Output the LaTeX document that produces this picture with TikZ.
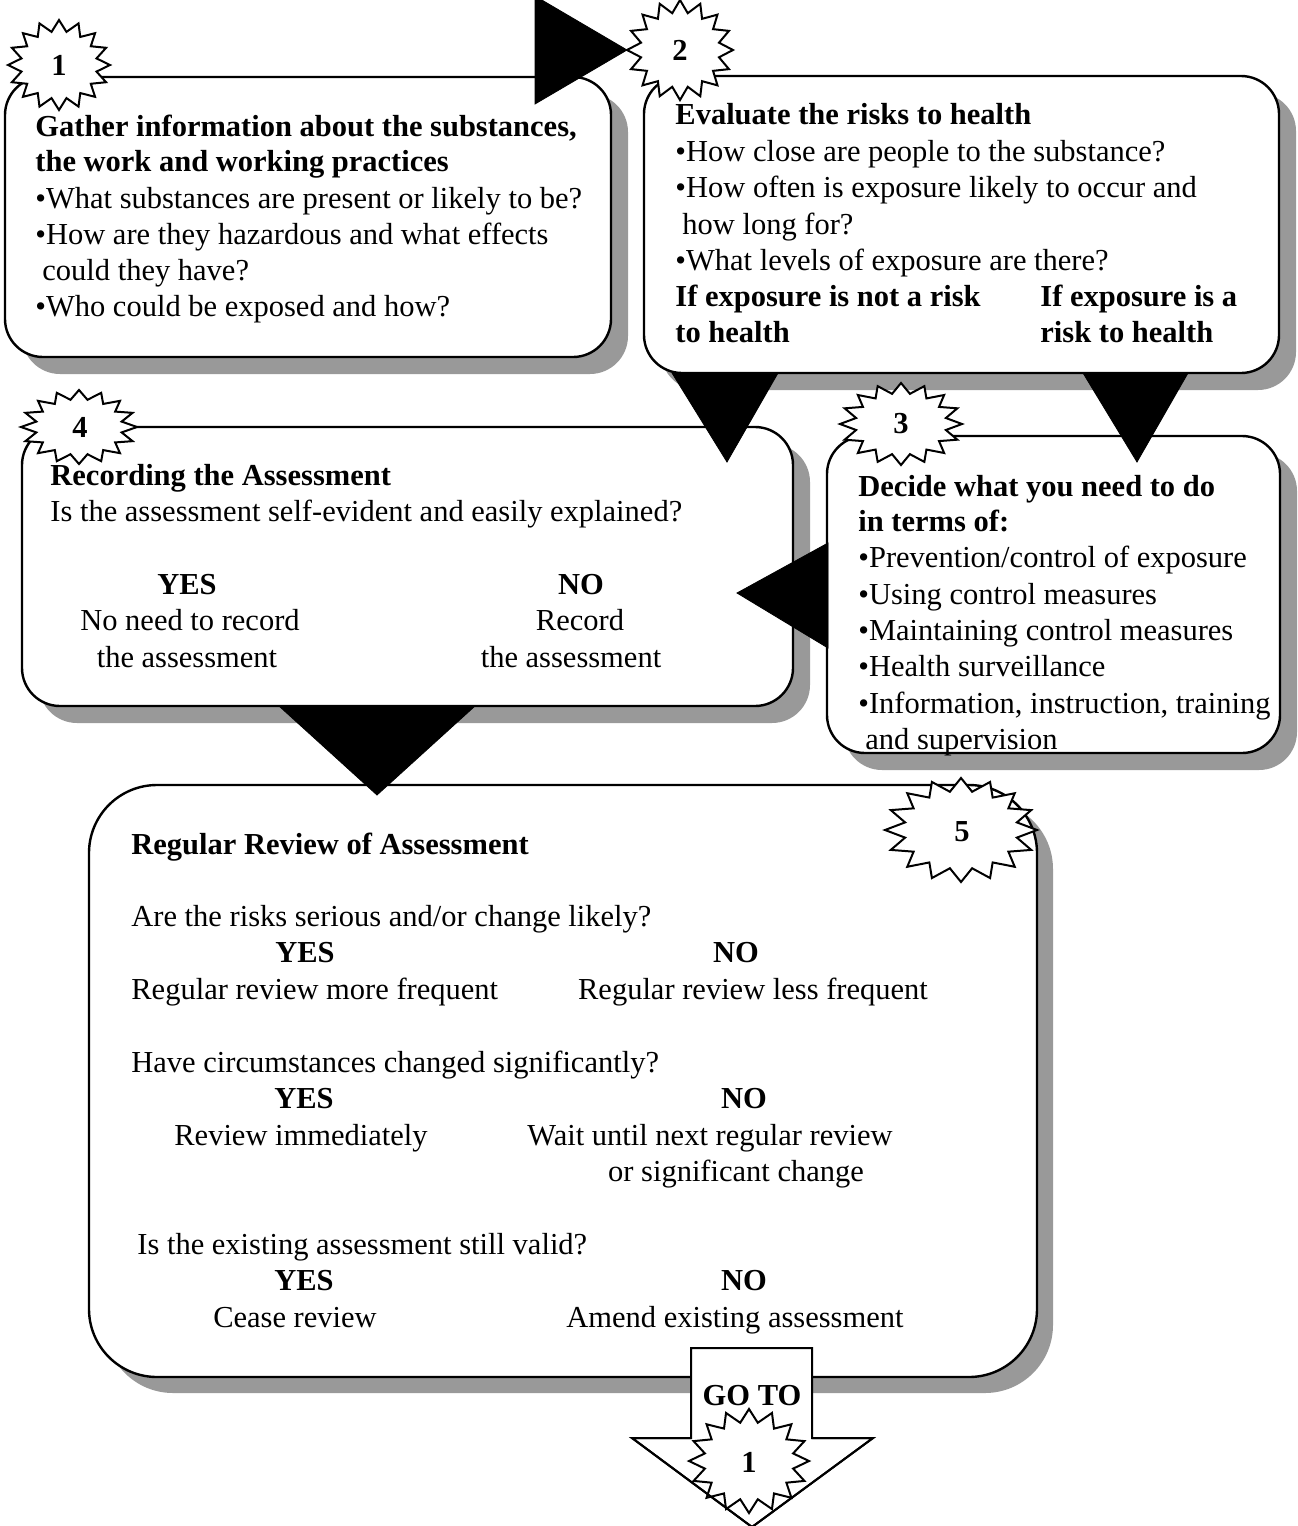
\documentclass[tikz,border=0pt]{standalone}
\usepackage{fontspec}
\setmainfont{Liberation Serif}
\definecolor{shadowgray}{RGB}{153,153,153}
\tikzset{
  boxline/.style={draw=black, line width=1.2pt, fill=white},
  shadowfill/.style={fill=shadowgray, draw=none},
  burst/.style={draw=black, line width=1pt, fill=white, line join=miter},
  tri/.style={fill=black, draw=black, line width=0.4pt},
  txt/.style={inner sep=0pt, anchor=base west, font=\fontsize{15.25}{18}\selectfont},
  ctxt/.style={txt, anchor=base},
  bf/.style={font=\fontsize{15.25}{18}\selectfont\bfseries},
  numlabel/.style={inner sep=0pt, anchor=center, font=\fontsize{15.25}{18}\selectfont\bfseries},
}
\newcommand\burstat[4]{%
  \path[burst] plot[samples=33, domain=0:32, variable=\k]
    ({#1+#3*(1-0.25*mod(round(\k),2))*cos(\k*11.25)},
     {#2+#4*(1-0.25*mod(round(\k),2))*sin(\k*11.25)}) -- cycle;}
\begin{document}
\begin{tikzpicture}[x=0.5pt,y=-0.5pt]
\useasboundingbox (0,0) rectangle (1297,1526);

% Box 1
\fill[shadowfill, rounded corners=19pt] (22,94) rectangle (628,374);
\draw[boxline, rounded corners=19pt] (5,77) rectangle (611,357);
% Box 2
\fill[shadowfill, rounded corners=19pt] (661,93) rectangle (1296,390);
\draw[boxline, rounded corners=19pt] (644,76) rectangle (1279,373);
% Box 3
\fill[shadowfill, rounded corners=19pt] (844,453) rectangle (1297,770);
\draw[boxline, rounded corners=19pt] (827,436) rectangle (1280,753);
% Box 4
\fill[shadowfill, rounded corners=19pt] (39,444) rectangle (810,723);
\draw[boxline, rounded corners=19pt] (22,427) rectangle (793,706);
% Box 5
\fill[shadowfill, rounded corners=34pt] (105,801) rectangle (1053,1393);
\draw[boxline, rounded corners=34pt] (89,785) rectangle (1037,1377);

% GO TO arrow
\draw[boxline, line width=1pt, line join=miter] (691,1348) -- (812,1348) -- (812,1438) -- (873,1438)
  -- (752,1527) -- (632,1438) -- (691,1438) -- cycle;

% black triangle arrows
\coordinate (a12a) at (535,-4); \coordinate (a12b) at (535,104); \coordinate (a12t) at (627,50);
\fill[tri] (a12a) -- (a12b) -- (a12t) -- cycle;
\fill[tri] (1083,373) -- (1188,373) -- (1137,462) -- cycle;
\fill[tri] (672,373) -- (778,373) -- (727,462) -- cycle;
\fill[tri] (828,543) -- (828,648) -- (737,593) -- cycle;
\fill[tri] (279,706) -- (475,706) -- (377,795) -- cycle;

% stars
\burstat{59}{65}{51}{45}
\burstat{680}{50}{53}{50}
\burstat{901}{424}{61}{41}
\burstat{79}{427}{58}{37}
\burstat{961}{830}{76}{52}
\burstat{749}{1461}{60}{52}
% arrow outline over the GO TO star
\draw[line width=1pt, line join=miter] (691,1438) -- (632,1438) -- (752,1527) -- (873,1438) -- (812,1438);
\node[numlabel] (n1) at (59,65) {1};
\node[numlabel] (n2) at (680,50) {2};
\node[numlabel] (n3) at (901,424) {3};
\node[numlabel] (n4) at (80,427) {4};
\node[numlabel] (n5) at (962,832) {5};
\node[numlabel] (n6) at (749,1462) {1};
\node[ctxt,bf] (goto) at (752,1405) {GO TO};

% Box 1 text
\node[txt,bf] (t11) at (35,136) {Gather information about the substances,};
\node[txt,bf] (t12) at (35,171) {the work and working practices};
\node[txt] (t13) at (35,208) {•What substances are present or likely to be?};
\node[txt] (t14) at (35,244) {•How are they hazardous and what effects};
\node[txt] (t15) at (42,280) {could they have?};
\node[txt] (t16) at (35,316) {•Who could be exposed and how?};

% Box 2 text
\node[txt,bf] (t21) at (675,124) {Evaluate the risks to health};
\node[txt] (t22) at (675,161) {•How close are people to the substance?};
\node[txt] (t23) at (675,197) {•How often is exposure likely to occur and};
\node[txt] (t24) at (682,234) {how long for?};
\node[txt] (t25) at (675,270) {•What levels of exposure are there?};
\node[txt,bf] (t26) at (675,306) {If exposure is not a risk};
\node[txt,bf] (t27) at (675,342) {to health};
\node[txt,bf] (t28) at (1040,306) {If exposure is a};
\node[txt,bf] (t29) at (1040,342) {risk to health};

% Box 3 text
\node[txt,bf] (t31) at (858,496) {Decide what you need to do};
\node[txt,bf] (t32) at (858,531) {in terms of:};
\node[txt] (t33) at (858,567) {•Prevention/control of exposure};
\node[txt] (t34) at (858,604) {•Using control measures};
\node[txt] (t35) at (858,640) {•Maintaining control measures};
\node[txt] (t36) at (858,676) {•Health surveillance};
\node[txt] (t37) at (858,713) {•Information, instruction, training};
\node[txt] (t38) at (865,749) {and supervision};

% Box 4 text
\node[txt,bf] (t41) at (50,485) {Recording the Assessment};
\node[txt] (t42) at (50,521) {Is the assessment self-evident and easily explained?};
\node[ctxt,bf] (t43) at (187,594) {YES};
\node[ctxt,bf] (t44) at (581,594) {NO};
\node[ctxt] (t45) at (190,630) {No need to record};
\node[ctxt] (t46) at (580,630) {Record};
\node[ctxt] (t47) at (187,667) {the assessment};
\node[ctxt] (t48) at (571,667) {the assessment};

% Box 5 text
\node[txt,bf] (t51) at (131,854) {Regular Review of Assessment};
\node[txt] (t52) at (131,926) {Are the risks serious and/or change likely?};
\node[ctxt,bf] (t53) at (305,962) {YES};
\node[ctxt,bf] (t54) at (736,962) {NO};
\node[txt] (t55) at (131,999) {Regular review more frequent};
\node[ctxt] (t56) at (753,999) {Regular review less frequent};
\node[txt] (t57) at (131,1072) {Have circumstances changed significantly?};
\node[ctxt,bf] (t58) at (304,1108) {YES};
\node[ctxt,bf] (t59) at (744,1108) {NO};
\node[ctxt] (t510) at (301,1145) {Review immediately};
\node[ctxt] (t511) at (710,1145) {Wait until next regular review};
\node[ctxt] (t512) at (736,1181) {or significant change};
\node[txt] (t513) at (137,1254) {Is the existing assessment still valid?};
\node[ctxt,bf] (t514) at (304,1290) {YES};
\node[ctxt,bf] (t515) at (744,1290) {NO};
\node[ctxt] (t516) at (295,1327) {Cease review};
\node[ctxt] (t517) at (735,1327) {Amend existing assessment};
\end{tikzpicture}
\end{document}
